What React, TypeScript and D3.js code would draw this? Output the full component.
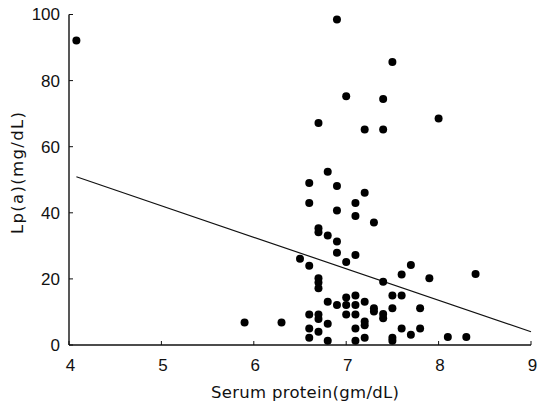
import React from "react";
import * as d3 from "d3";

const serumProtein = [
  4.08, 6.9, 7.5, 7.0, 7.4, 8.0, 6.7, 7.2, 7.4, 6.8,
  6.6, 6.9, 7.2, 6.6, 7.1, 6.9, 7.1, 7.3, 6.7, 6.7,
  6.8, 6.9, 6.9, 7.1, 6.5, 7.0, 6.6, 7.7, 7.6, 8.4,
  7.9, 7.4, 6.7, 6.7, 6.7, 7.5, 7.6, 7.0, 7.1, 6.8,
  7.2, 6.9, 7.0, 7.1, 7.3, 7.3, 7.5, 7.8, 7.4, 7.4,
  6.6, 6.7, 6.7, 7.0, 7.1, 5.9, 6.3, 6.8, 7.2, 7.2,
  6.6, 7.1, 7.6, 7.8, 6.7, 7.7, 6.6, 7.2, 7.5, 7.5,
  8.1, 8.3, 6.8, 7.1,
];
const lpa = [
  92.1, 98.5, 85.6, 75.3, 74.4, 68.5, 67.2, 65.2, 65.2, 52.4,
  49.0, 48.1, 46.1, 43.0, 43.0, 40.7, 39.0, 37.1, 35.3, 34.1,
  33.1, 31.3, 27.9, 27.2, 26.1, 25.1, 24.0, 24.2, 21.3, 21.5,
  20.2, 19.1, 20.2, 18.9, 17.2, 15.0, 15.0, 14.4, 15.0, 13.1,
  13.1, 12.1, 12.1, 12.1, 11.1, 10.1, 11.1, 11.1, 9.4, 8.1,
  9.2, 9.2, 7.9, 9.2, 9.2, 6.8, 6.8, 6.4, 7.1, 6.0,
  5.0, 5.0, 5.0, 5.0, 4.0, 3.1, 2.2, 2.2, 2.2, 1.3,
  2.4, 2.4, 1.3, 1.3,
];
const fitX = [4.08, 9];
const fitY = [50.9, 4.0];
const xTicks = [4, 5, 6, 7, 8, 9];
const yTicks = [0, 20, 40, 60, 80, 100];
const xTitle = "Serum protein(gm/dL)";
const yTitle = "Lp(a)(mg/dL)";

export default function App() {
  const W = 546;
  const H = 403;
  const x = d3.scaleLinear().domain([4, 9]).range([69, 531]);
  const y = d3.scaleLinear().domain([0, 100]).range([345, 14.5]);
  const font = "'Liberation Sans', Arial, sans-serif";
  const titleFont = "'DejaVu Sans', 'Liberation Sans', sans-serif";
  const line = d3
    .line<number>()
    .x((d) => x(d))
    .y((_, i) => y(fitY[i]));

  return (
    <svg
      width={W}
      height={H}
      style={{ position: "absolute", left: 0, top: 0, background: "#fff" }}
    >
      <rect x={0} y={0} width={W} height={H} fill="#fff" />
      {/* axes */}
      <line x1={x(4)} x2={x(4)} y1={y(100)} y2={y(0)} stroke="#111" strokeWidth={1.4} />
      <line x1={x(4)} x2={x(9)} y1={y(0)} y2={y(0)} stroke="#111" strokeWidth={1.4} />
      {yTicks.map((t) => (
        <g key={"y" + t}>
          <line x1={x(4)} x2={x(4) + 4} y1={y(t)} y2={y(t)} stroke="#111" strokeWidth={1} />
          <text
            x={60}
            y={y(t)}
            dy="0.35em"
            textAnchor="end"
            fontFamily={font}
            fontSize={17}
            fill="#111"
          >
            {t}
          </text>
        </g>
      ))}
      {xTicks.map((t) => (
        <g key={"x" + t}>
          <line x1={x(t)} x2={x(t)} y1={y(0)} y2={y(0) - 4} stroke="#111" strokeWidth={1} />
          <text
            x={x(t) + 1.5}
            y={371}
            textAnchor="middle"
            fontFamily={font}
            fontSize={17}
            fill="#111"
          >
            {t}
          </text>
        </g>
      ))}
      {/* titles */}
      <text
        x={305}
        y={398}
        textAnchor="middle"
        fontFamily={titleFont}
        fontSize={16.5}
        fill="#111"
        textLength={188}
        lengthAdjust="spacing"
      >
        {xTitle}
      </text>
      <text
        transform={`translate(23,173) rotate(-90)`}
        textAnchor="middle"
        fontFamily={titleFont}
        fontSize={16.5}
        fill="#111"
        textLength={122}
        lengthAdjust="spacing"
      >
        {yTitle}
      </text>
      {/* regression line */}
      <path d={line(fitX) || ""} fill="none" stroke="#111" strokeWidth={1.2} />
      {/* points */}
      {serumProtein.map((v, i) => (
        <circle key={i} cx={x(v)} cy={y(lpa[i])} r={4} fill="#000" />
      ))}
    </svg>
  );
}
